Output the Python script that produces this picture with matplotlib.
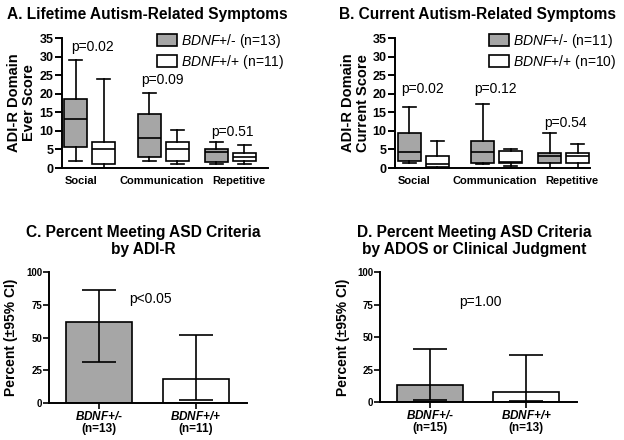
import numpy as np
import matplotlib
matplotlib.use("Agg")
import matplotlib.pyplot as plt
from matplotlib.patches import Patch

plt.rcParams['font.family'] = ['Liberation Sans', 'DejaVu Sans']
plt.rcParams['mathtext.fontset'] = 'custom'
plt.rcParams['mathtext.rm'] = 'Liberation Sans'
plt.rcParams['mathtext.it'] = 'Liberation Sans:italic'
plt.rcParams['mathtext.bf'] = 'Liberation Sans:bold'
plt.rcParams['mathtext.bfit'] = 'Liberation Sans:italic:bold'

# ---------------------------------------------------
# Data
# order: Social +/-, Social +/+, Communication +/-, Communication +/+, Repetitive +/-, Repetitive +/+
# ---------------------------------------------------
domains = ['Social', 'Communication', 'Repetitive']

a_whislo = [2.0, 0.0, 2.0, 1.1, 1.1, 1.0]
a_q1 = [5.7, 1.1, 2.9, 1.9, 1.7, 2.0]
a_med = [13.1, 5.1, 8.0, 5.1, 4.4, 3.0]
a_q3 = [18.6, 7.1, 14.5, 7.1, 5.1, 4.1]
a_whishi = [29.0, 24.0, 20.1, 10.1, 7.1, 6.2]
a_pvals = ['p=0.02', 'p=0.09', 'p=0.51']
a_n = [13, 11]

b_whislo = [1.3, 0.0, 1.0, 0.5, 0.0, 0.0]
b_q1 = [2.0, 0.4, 1.4, 1.4, 1.4, 1.4]
b_med = [4.4, 1.2, 4.4, 1.7, 3.3, 3.3]
b_q3 = [9.3, 3.2, 7.3, 4.7, 4.1, 4.0]
b_whishi = [16.3, 7.3, 17.2, 5.1, 9.3, 6.4]
b_pvals = ['p=0.02', 'p=0.12', 'p=0.54']
b_n = [11, 10]

groups = ['BDNF+/-', 'BDNF+/+']
c_pct = [61.6, 18.2]
c_lo = [31.5, 2.0]
c_hi = [86.4, 51.9]
c_n = [13, 11]
c_p = 'p<0.05'

d_pct = [13.3, 7.7]
d_lo = [1.8, 0.5]
d_hi = [41.0, 36.4]
d_n = [15, 13]
d_p = 'p=1.00'

gray = '#a6a6a6'
lw = 1.2

W, H = 624, 440
fig = plt.figure(figsize=(W / 100, H / 100), dpi=100)


def px_axes(x0, y_top, x1, y_bot):
    return fig.add_axes([x0 / W, 1 - y_bot / H, (x1 - x0) / W, (y_bot - y_top) / H])


def mlabel(g, font='mathit'):
    # italic gene name; a plain hyphen is kept outside mathtext
    if g.endswith('-'):
        return r'$\%s{BDNF{+}/}$-' % font
    return r'$\%s{BDNF{+}/{+}}$' % font


def style(ax):
    for s in ['top', 'right']:
        ax.spines[s].set_visible(False)
    for s in ['left', 'bottom']:
        ax.spines[s].set_linewidth(1.4)


# ---------------------------------------------------
# Box plots (A, B)
# ---------------------------------------------------
box_pos = [14, 42, 87.5, 115.5, 154.5, 182.5]
p_pos = [[31, 100, 170.5, 32.6, 23.7, 9.8], [28, 100, 170.5, 21.3, 21.3, 12.0]]


def box_panel(ax, wlo, q1, med, q3, whi, pvals, n, ylabel, ppos, xmax):
    stats = []
    for i in range(6):
        stats.append(dict(whislo=wlo[i], q1=q1[i], med=med[i], q3=q3[i], whishi=whi[i], fliers=[]))
    bp = ax.bxp(stats, positions=box_pos, widths=23, capwidths=13, patch_artist=True,
                manage_ticks=False,
                medianprops=dict(color='black', lw=lw),
                whiskerprops=dict(color='black', lw=lw),
                capprops=dict(color='black', lw=lw),
                boxprops=dict(edgecolor='black', lw=lw))
    for i, b in enumerate(bp['boxes']):
        b.set_facecolor(gray if i % 2 == 0 else 'white')
    ax.set_xlim(0, xmax)
    ax.set_ylim(0, 35)
    ax.set_yticks(np.arange(0, 36, 5))
    ax.set_xticks([19, 100, 177])
    ax.set_xticklabels(domains, fontsize=8, fontweight='bold')
    ax.tick_params(axis='x', length=0, pad=6)
    ax.tick_params(axis='y', length=5, width=1.4, pad=1, labelsize=9)
    for t in ax.get_yticklabels():
        t.set_fontweight('bold')
    ax.set_ylabel(ylabel, fontsize=10.5, fontweight='bold', linespacing=1.1)
    for i in range(3):
        ax.text(ppos[i], ppos[3 + i], pvals[i], fontsize=10, ha='center', va='center')
    handles = [Patch(facecolor=gray, edgecolor='black', lw=lw),
               Patch(facecolor='white', edgecolor='black', lw=lw)]
    labels = [mlabel(groups[k]) + ' (n=%d)' % n[k] for k in range(2)]
    style(ax)
    return handles, labels


axA = px_axes(62, 38, 268, 168)
h, l = box_panel(axA, a_whislo, a_q1, a_med, a_q3, a_whishi, a_pvals, a_n,
                 'ADI-R Domain\nEver Score', p_pos[0], 206)
axA.yaxis.set_label_coords(-0.127, 0.5)
axA.legend(h, l, loc='upper left', bbox_to_anchor=(0.461, 1.05), frameon=False, fontsize=10,
           handlelength=1.45, handleheight=1.0, handletextpad=0.25, labelspacing=0.25,
           borderpad=0, borderaxespad=0)

axB = px_axes(395, 38, 590, 168)
h, l = box_panel(axB, b_whislo, b_q1, b_med, b_q3, b_whishi, b_pvals, b_n,
                 'ADI-R Domain\nCurrent Score', p_pos[1], 195)
axB.yaxis.set_label_coords(-0.13, 0.5)
axB.legend(h, l, loc='upper left', bbox_to_anchor=(0.482, 1.05), frameon=False, fontsize=10,
           handlelength=1.45, handleheight=1.0, handletextpad=0.25, labelspacing=0.25,
           borderpad=0, borderaxespad=0)

fig.text(7 / W, 1 - 14 / H, 'A. Lifetime Autism-Related Symptoms', fontsize=11.2,
         fontweight='bold', ha='left', va='center')
fig.text(339 / W, 1 - 14 / H, 'B. Current Autism-Related Symptoms', fontsize=11.2,
         fontweight='bold', ha='left', va='center')


# ---------------------------------------------------
# Bar charts (C, D)
# ---------------------------------------------------
def bar_panel(ax, pct, lo, hi, n, ptxt, pxy):
    x = np.arange(2)
    ax.bar(x, pct, width=0.68, color=[gray, 'white'], edgecolor='black', lw=lw, zorder=2)
    yerr = [np.array(pct) - np.array(lo), np.array(hi) - np.array(pct)]
    ax.errorbar(x, pct, yerr=yerr, fmt='none', ecolor='black', elinewidth=lw,
                capsize=11.9, capthick=lw, zorder=3)
    ax.set_xlim(-0.515, 1.526)
    ax.set_ylim(0, 100)
    ax.set_yticks([0, 25, 50, 75, 100])
    ax.tick_params(axis='y', length=4, width=1.2, pad=1, labelsize=7)
    for t in ax.get_yticklabels():
        t.set_fontweight('bold')
    ax.set_xticks(x)
    ax.set_xticklabels([mlabel(g, 'mathbfit') + '\n(n=%d)' % n[k]
                        for k, g in enumerate(groups)], fontsize=8.5, fontweight='bold',
                       linespacing=1.05)
    ax.tick_params(axis='x', length=4, width=1.2, pad=1)
    ax.set_ylabel('Percent (\u00b195% CI)', fontsize=10, fontweight='bold')
    ax.text(pxy[0], pxy[1], ptxt, fontsize=10, ha='center', va='center')
    style(ax)


axC = px_axes(49, 272, 247, 403)
bar_panel(axC, c_pct, c_lo, c_hi, c_n, c_p, (0.53, 79.4))
axC.yaxis.set_label_coords(-0.157, 0.5)

axD = px_axes(380, 272, 577, 402)
bar_panel(axD, d_pct, d_lo, d_hi, d_n, d_p, (0.53, 77))
axD.yaxis.set_label_coords(-0.152, 0.5)

fig.text(143 / W, 1 - 241 / H, 'C. Percent Meeting ASD Criteria\nby ADI-R', fontsize=11.2,
         fontweight='bold', ha='center', va='center', linespacing=1.15)
fig.text(474 / W, 1 - 241 / H, 'D. Percent Meeting ASD Criteria\nby ADOS or Clinical Judgment',
         fontsize=11.2, fontweight='bold', ha='center', va='center', linespacing=1.15)

fig.savefig('out.png', dpi=100, facecolor='white')
